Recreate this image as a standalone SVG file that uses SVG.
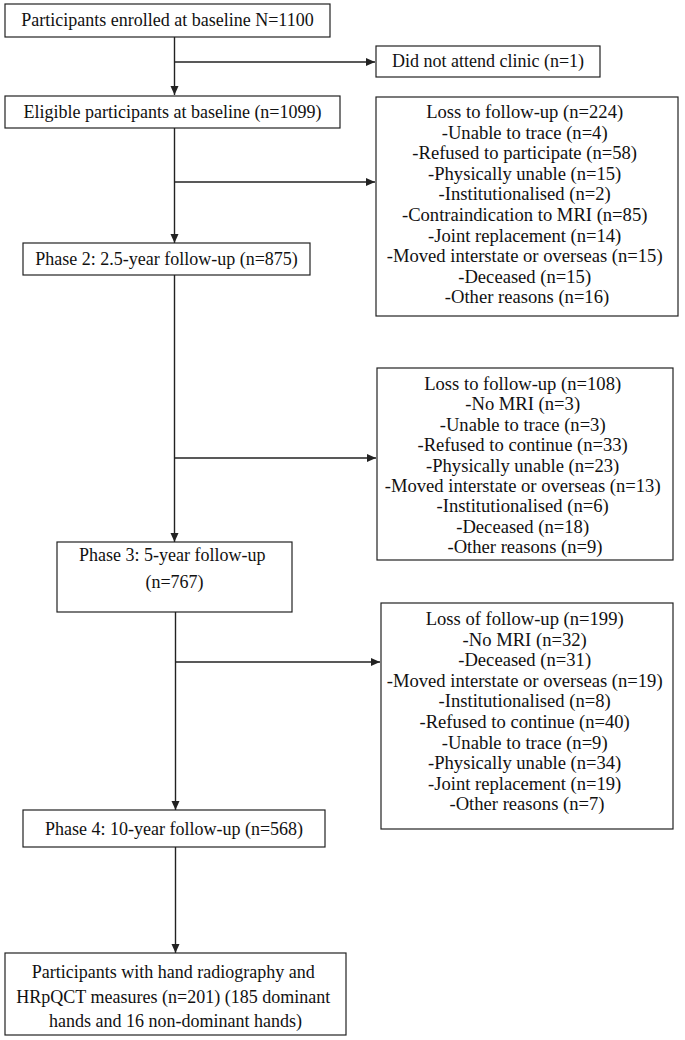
<svg xmlns="http://www.w3.org/2000/svg" width="685" height="1040" viewBox="0 0 685 1040">
<style>
.box{fill:#fff;stroke:#222;stroke-width:1.2}
.t{font-family:'Liberation Serif','Times New Roman',Times,serif;font-size:18px;fill:#111;text-anchor:middle}
.s{font-size:18.6px}
.ln{stroke:#222;stroke-width:1.4;fill:none}
</style>
<defs>
<marker id="ah" markerWidth="10" markerHeight="10" refX="9" refY="5" orient="auto" markerUnits="userSpaceOnUse">
<path d="M0,1 L9,5 L0,9 Z" fill="#222"/>
</marker>
</defs>
<rect width="685" height="1040" fill="#fff"/>
<g id="connectors">
<line class="ln" x1="174.5" y1="37" x2="174.5" y2="95" marker-end="url(#ah)"/>
<line class="ln" x1="174.5" y1="62" x2="375" y2="62" marker-end="url(#ah)"/>
<line class="ln" x1="174.5" y1="128" x2="174.5" y2="243" marker-end="url(#ah)"/>
<line class="ln" x1="174.5" y1="182" x2="375" y2="182" marker-end="url(#ah)"/>
<line class="ln" x1="174.5" y1="275" x2="174.5" y2="542" marker-end="url(#ah)"/>
<line class="ln" x1="174.5" y1="458" x2="376" y2="458" marker-end="url(#ah)"/>
<line class="ln" x1="175.5" y1="612" x2="175.5" y2="810" marker-end="url(#ah)"/>
<line class="ln" x1="175.5" y1="662" x2="380" y2="662" marker-end="url(#ah)"/>
<line class="ln" x1="175.5" y1="847" x2="175.5" y2="953" marker-end="url(#ah)"/>
</g>
<g id="n-enrolled">
<rect class="box" x="5" y="4" width="325" height="33"/>
<text class="t" x="167.5" y="26">Participants enrolled at baseline N=1100</text>
</g>
<g id="n-dna">
<rect class="box" x="376" y="46" width="224" height="31"/>
<text class="t" x="488" y="67">Did not attend clinic (n=1)</text>
</g>
<g id="n-eligible">
<rect class="box" x="5" y="96" width="335" height="32"/>
<text class="t" x="172.5" y="118">Eligible participants at baseline (n=1099)</text>
</g>
<g id="n-loss1">
<rect class="box" x="376" y="97" width="302" height="219"/>
<text class="t s" x="527" y="118">
<tspan x="527" dy="0">Loss to follow-up (n=224)</tspan>
<tspan x="527" dy="20.6">-Unable to trace (n=4)</tspan>
<tspan x="527" dy="20.6">-Refused to participate (n=58)</tspan>
<tspan x="527" dy="20.6">-Physically unable (n=15)</tspan>
<tspan x="527" dy="20.6">-Institutionalised (n=2)</tspan>
<tspan x="527" dy="20.6">-Contraindication to MRI (n=85)</tspan>
<tspan x="527" dy="20.6">-Joint replacement (n=14)</tspan>
<tspan x="527" dy="20.6">-Moved interstate or overseas (n=15)</tspan>
<tspan x="527" dy="20.6">-Deceased (n=15)</tspan>
<tspan x="527" dy="20.6">-Other reasons (n=16)</tspan>
</text>
</g>
<g id="n-phase2">
<rect class="box" x="23" y="243" width="287" height="32"/>
<text class="t" x="166.5" y="265">Phase 2: 2.5-year follow-up (n=875)</text>
</g>
<g id="n-loss2">
<rect class="box" x="377" y="368" width="296" height="192"/>
<text class="t s" x="525" y="390">
<tspan x="525" dy="0">Loss to follow-up (n=108)</tspan>
<tspan x="525" dy="20.4">-No MRI (n=3)</tspan>
<tspan x="525" dy="20.4">-Unable to trace (n=3)</tspan>
<tspan x="525" dy="20.4">-Refused to continue (n=33)</tspan>
<tspan x="525" dy="20.4">-Physically unable (n=23)</tspan>
<tspan x="525" dy="20.4">-Moved interstate or overseas (n=13)</tspan>
<tspan x="525" dy="20.4">-Institutionalised (n=6)</tspan>
<tspan x="525" dy="20.4">-Deceased (n=18)</tspan>
<tspan x="525" dy="20.4">-Other reasons (n=9)</tspan>
</text>
</g>
<g id="n-phase3">
<rect class="box" x="57" y="542" width="235" height="70"/>
<text class="t" x="174.5" y="561">
<tspan x="174.5" dy="0">Phase 3: 5-year follow-up</tspan>
<tspan x="174.5" dy="27">(n=767)</tspan>
</text>
</g>
<g id="n-loss3">
<rect class="box" x="381" y="603" width="292" height="226"/>
<text class="t s" x="527" y="625">
<tspan x="527" dy="0">Loss of follow-up (n=199)</tspan>
<tspan x="527" dy="20.6">-No MRI (n=32)</tspan>
<tspan x="527" dy="20.6">-Deceased (n=31)</tspan>
<tspan x="527" dy="20.6">-Moved interstate or overseas (n=19)</tspan>
<tspan x="527" dy="20.6">-Institutionalised (n=8)</tspan>
<tspan x="527" dy="20.6">-Refused to continue (n=40)</tspan>
<tspan x="527" dy="20.6">-Unable to trace (n=9)</tspan>
<tspan x="527" dy="20.6">-Physically unable (n=34)</tspan>
<tspan x="527" dy="20.6">-Joint replacement (n=19)</tspan>
<tspan x="527" dy="20.6">-Other reasons (n=7)</tspan>
</text>
</g>
<g id="n-phase4">
<rect class="box" x="23" y="810" width="302" height="37"/>
<text class="t" x="174" y="835">Phase 4: 10-year follow-up (n=568)</text>
</g>
<g id="n-final">
<rect class="box" x="5" y="953" width="341" height="82"/>
<text class="t" x="175.5" y="978">
<tspan x="175.5" dy="0">Participants with hand radiography and</tspan>
<tspan x="175.5" dy="24.5">HRpQCT measures (n=201) (185 dominant</tspan>
<tspan x="175.5" dy="24.5">hands and 16 non-dominant hands)</tspan>
</text>
</g>
</svg>
